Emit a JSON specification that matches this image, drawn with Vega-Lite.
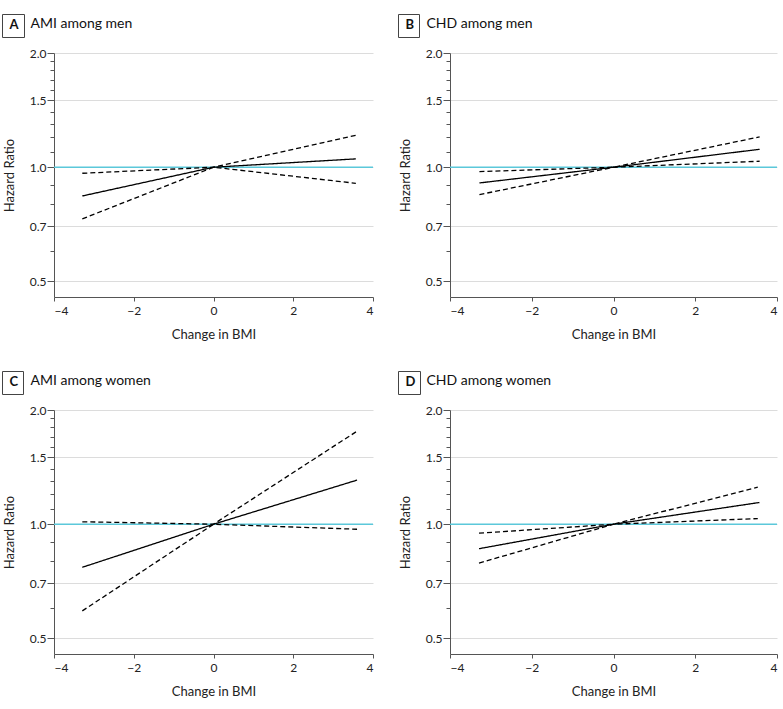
{
  "$schema": "https://vega.github.io/schema/vega-lite/v6.json",
  "background": "white",
  "padding": {"left": 1, "top": 13, "right": 0, "bottom": 0},
  "datasets": {
    "curves": [
      {"panel": "A", "series": "Estimate", "bmi": -3.29, "hr": 0.84},
      {"panel": "A", "series": "Estimate", "bmi": 0, "hr": 1.0},
      {"panel": "A", "series": "Estimate", "bmi": 3.57, "hr": 1.052},
      {"panel": "A", "series": "Lower", "bmi": -3.29, "hr": 0.731},
      {"panel": "A", "series": "Lower", "bmi": 0, "hr": 1.0},
      {"panel": "A", "series": "Lower", "bmi": 3.57, "hr": 0.907},
      {"panel": "A", "series": "Upper", "bmi": -3.29, "hr": 0.964},
      {"panel": "A", "series": "Upper", "bmi": 0, "hr": 1.0},
      {"panel": "A", "series": "Upper", "bmi": 3.57, "hr": 1.214},
      {"panel": "B", "series": "Estimate", "bmi": -3.28, "hr": 0.909},
      {"panel": "B", "series": "Estimate", "bmi": 0, "hr": 1.0},
      {"panel": "B", "series": "Estimate", "bmi": 3.575, "hr": 1.115},
      {"panel": "B", "series": "Lower", "bmi": -3.28, "hr": 0.847},
      {"panel": "B", "series": "Lower", "bmi": 0, "hr": 1.0},
      {"panel": "B", "series": "Lower", "bmi": 3.575, "hr": 1.037},
      {"panel": "B", "series": "Upper", "bmi": -3.28, "hr": 0.974},
      {"panel": "B", "series": "Upper", "bmi": 0, "hr": 1.0},
      {"panel": "B", "series": "Upper", "bmi": 3.575, "hr": 1.202},
      {"panel": "C", "series": "Estimate", "bmi": -3.29, "hr": 0.77},
      {"panel": "C", "series": "Estimate", "bmi": 0, "hr": 1.0},
      {"panel": "C", "series": "Estimate", "bmi": 3.6, "hr": 1.307},
      {"panel": "C", "series": "Lower", "bmi": -3.29, "hr": 0.591},
      {"panel": "C", "series": "Lower", "bmi": 0, "hr": 1.0},
      {"panel": "C", "series": "Lower", "bmi": 3.6, "hr": 0.97},
      {"panel": "C", "series": "Upper", "bmi": -3.29, "hr": 1.015},
      {"panel": "C", "series": "Upper", "bmi": 0, "hr": 1.0},
      {"panel": "C", "series": "Upper", "bmi": 3.6, "hr": 1.759},
      {"panel": "D", "series": "Estimate", "bmi": -3.29, "hr": 0.862},
      {"panel": "D", "series": "Estimate", "bmi": 0, "hr": 1.0},
      {"panel": "D", "series": "Estimate", "bmi": 3.57, "hr": 1.141},
      {"panel": "D", "series": "Lower", "bmi": -3.29, "hr": 0.79},
      {"panel": "D", "series": "Lower", "bmi": 0, "hr": 1.0},
      {"panel": "D", "series": "Lower", "bmi": 3.53, "hr": 1.035},
      {"panel": "D", "series": "Upper", "bmi": -3.29, "hr": 0.947},
      {"panel": "D", "series": "Upper", "bmi": 0, "hr": 1.0},
      {"panel": "D", "series": "Upper", "bmi": 3.53, "hr": 1.252}
    ],
    "ref": [
      {"panel": "A", "hr": 1.0},
      {"panel": "B", "hr": 1.0},
      {"panel": "C", "hr": 1.0},
      {"panel": "D", "hr": 1.0}
    ]
  },
  "vconcat": [
    {
      "hconcat": [
        {
          "width": 319,
          "height": 244,
          "title": {"text": "AMI among men"},
          "layer": [
            {
              "data": {"name": "ref"},
              "transform": [{"filter": "datum.panel === 'A'"}],
              "mark": {"type": "rule", "strokeWidth": 1.5},
              "encoding": {
                "y": {"field": "hr", "type": "quantitative", "scale": {"type": "log", "domain": [0.455, 2], "nice": false}},
                "color": {"field": "panel", "type": "nominal", "scale": {"range": ["#5bc8da"]}}
              }
            },
            {
              "data": {"name": "curves"},
              "transform": [{"filter": "datum.panel === 'A'"}],
              "mark": {"type": "line", "color": "black", "strokeWidth": 1.3},
              "encoding": {
                "x": {"field": "bmi", "type": "quantitative", "title": "Change in BMI", "scale": {"domain": [-4, 4], "nice": false},
                  "axis": {"values": [-4, -2, 0, 2, 4], "grid": false}},
                "y": {"field": "hr", "type": "quantitative", "title": "Hazard Ratio",
                  "axis": {"grid": true, "values": [0.5, 0.6, 0.7, 0.8, 0.9, 1.0, 1.1, 1.2, 1.3, 1.4, 1.5, 1.6, 1.7, 1.8, 1.9, 2.0],
                    "labelExpr": "indexof([0.5, 0.7, 1, 1.5, 2], datum.value) >= 0 ? format(datum.value, '.1f') : ''",
                    "tickSize": {"condition": {"test": "indexof([0.5, 0.7, 1, 1.5, 2], datum.value) >= 0", "value": 7}, "value": 4},
                    "gridOpacity": {"condition": {"test": "indexof([0.5, 0.7, 1, 1.5, 2], datum.value) >= 0", "value": 1}, "value": 0}}},
                "detail": {"field": "series"},
                "strokeDash": {"field": "series", "type": "nominal", "scale": {"domain": ["Estimate", "Lower", "Upper"], "range": [[1, 0], [5, 3], [5, 3]]}, "legend": null}
              }
            }
          ]
        },
        {
          "width": 327,
          "height": 244,
          "title": {"text": "CHD among men"},
          "layer": [
            {
              "data": {"name": "ref"},
              "transform": [{"filter": "datum.panel === 'B'"}],
              "mark": {"type": "rule", "strokeWidth": 1.5},
              "encoding": {
                "y": {"field": "hr", "type": "quantitative", "scale": {"type": "log", "domain": [0.455, 2], "nice": false}},
                "color": {"field": "panel", "type": "nominal", "scale": {"range": ["#5bc8da"]}}
              }
            },
            {
              "data": {"name": "curves"},
              "transform": [{"filter": "datum.panel === 'B'"}],
              "mark": {"type": "line", "color": "black", "strokeWidth": 1.3},
              "encoding": {
                "x": {"field": "bmi", "type": "quantitative", "title": "Change in BMI", "scale": {"domain": [-4, 4], "nice": false},
                  "axis": {"values": [-4, -2, 0, 2, 4], "grid": false}},
                "y": {"field": "hr", "type": "quantitative", "title": "Hazard Ratio",
                  "axis": {"grid": true, "values": [0.5, 0.6, 0.7, 0.8, 0.9, 1.0, 1.1, 1.2, 1.3, 1.4, 1.5, 1.6, 1.7, 1.8, 1.9, 2.0],
                    "labelExpr": "indexof([0.5, 0.7, 1, 1.5, 2], datum.value) >= 0 ? format(datum.value, '.1f') : ''",
                    "tickSize": {"condition": {"test": "indexof([0.5, 0.7, 1, 1.5, 2], datum.value) >= 0", "value": 7}, "value": 4},
                    "gridOpacity": {"condition": {"test": "indexof([0.5, 0.7, 1, 1.5, 2], datum.value) >= 0", "value": 1}, "value": 0}}},
                "detail": {"field": "series"},
                "strokeDash": {"field": "series", "type": "nominal", "scale": {"domain": ["Estimate", "Lower", "Upper"], "range": [[1, 0], [5, 3], [5, 3]]}, "legend": null}
              }
            }
          ]
        }
      ],
      "spacing": 23,
      "resolve": {"scale": {"color": "independent"}, "legend": {"color": "independent"}}
    },
    {
      "hconcat": [
        {
          "width": 319,
          "height": 244,
          "title": {"text": "AMI among women"},
          "layer": [
            {
              "data": {"name": "ref"},
              "transform": [{"filter": "datum.panel === 'C'"}],
              "mark": {"type": "rule", "strokeWidth": 1.5},
              "encoding": {
                "y": {"field": "hr", "type": "quantitative", "scale": {"type": "log", "domain": [0.455, 2], "nice": false}},
                "color": {"field": "panel", "type": "nominal", "scale": {"range": ["#5bc8da"]}}
              }
            },
            {
              "data": {"name": "curves"},
              "transform": [{"filter": "datum.panel === 'C'"}],
              "mark": {"type": "line", "color": "black", "strokeWidth": 1.3},
              "encoding": {
                "x": {"field": "bmi", "type": "quantitative", "title": "Change in BMI", "scale": {"domain": [-4, 4], "nice": false},
                  "axis": {"values": [-4, -2, 0, 2, 4], "grid": false}},
                "y": {"field": "hr", "type": "quantitative", "title": "Hazard Ratio",
                  "axis": {"grid": true, "values": [0.5, 0.6, 0.7, 0.8, 0.9, 1.0, 1.1, 1.2, 1.3, 1.4, 1.5, 1.6, 1.7, 1.8, 1.9, 2.0],
                    "labelExpr": "indexof([0.5, 0.7, 1, 1.5, 2], datum.value) >= 0 ? format(datum.value, '.1f') : ''",
                    "tickSize": {"condition": {"test": "indexof([0.5, 0.7, 1, 1.5, 2], datum.value) >= 0", "value": 7}, "value": 4},
                    "gridOpacity": {"condition": {"test": "indexof([0.5, 0.7, 1, 1.5, 2], datum.value) >= 0", "value": 1}, "value": 0}}},
                "detail": {"field": "series"},
                "strokeDash": {"field": "series", "type": "nominal", "scale": {"domain": ["Estimate", "Lower", "Upper"], "range": [[1, 0], [5, 3], [5, 3]]}, "legend": null}
              }
            }
          ]
        },
        {
          "width": 327,
          "height": 244,
          "title": {"text": "CHD among women"},
          "layer": [
            {
              "data": {"name": "ref"},
              "transform": [{"filter": "datum.panel === 'D'"}],
              "mark": {"type": "rule", "strokeWidth": 1.5},
              "encoding": {
                "y": {"field": "hr", "type": "quantitative", "scale": {"type": "log", "domain": [0.455, 2], "nice": false}},
                "color": {"field": "panel", "type": "nominal", "scale": {"range": ["#5bc8da"]}}
              }
            },
            {
              "data": {"name": "curves"},
              "transform": [{"filter": "datum.panel === 'D'"}],
              "mark": {"type": "line", "color": "black", "strokeWidth": 1.3},
              "encoding": {
                "x": {"field": "bmi", "type": "quantitative", "title": "Change in BMI", "scale": {"domain": [-4, 4], "nice": false},
                  "axis": {"values": [-4, -2, 0, 2, 4], "grid": false}},
                "y": {"field": "hr", "type": "quantitative", "title": "Hazard Ratio",
                  "axis": {"grid": true, "values": [0.5, 0.6, 0.7, 0.8, 0.9, 1.0, 1.1, 1.2, 1.3, 1.4, 1.5, 1.6, 1.7, 1.8, 1.9, 2.0],
                    "labelExpr": "indexof([0.5, 0.7, 1, 1.5, 2], datum.value) >= 0 ? format(datum.value, '.1f') : ''",
                    "tickSize": {"condition": {"test": "indexof([0.5, 0.7, 1, 1.5, 2], datum.value) >= 0", "value": 7}, "value": 4},
                    "gridOpacity": {"condition": {"test": "indexof([0.5, 0.7, 1, 1.5, 2], datum.value) >= 0", "value": 1}, "value": 0}}},
                "detail": {"field": "series"},
                "strokeDash": {"field": "series", "type": "nominal", "scale": {"domain": ["Estimate", "Lower", "Upper"], "range": [[1, 0], [5, 3], [5, 3]]}, "legend": null}
              }
            }
          ]
        }
      ],
      "spacing": 23,
      "resolve": {"scale": {"color": "independent"}, "legend": {"color": "independent"}}
    }
  ],
  "spacing": 29,
  "resolve": {"scale": {"color": "independent"}, "legend": {"color": "independent"}},
  "config": {
    "font": "Lato",
    "view": {"stroke": null},
    "title": {"anchor": "start", "frame": "group", "dx": -23.5, "fontSize": 14, "fontWeight": "normal", "color": "#111", "offset": -17},
    "axis": {
      "labelFont": "Lato",
      "labelFontSize": 12,
      "labelColor": "#222",
      "titleFont": "Lato",
      "titleFontSize": 13,
      "titleFontWeight": "normal",
      "titleColor": "#222",
      "domainColor": "#555",
      "tickColor": "#555",
      "gridColor": "#dcdcdc"
    },
    "axisX": {"tickSize": 4, "labelPadding": 4, "titlePadding": 12},
    "axisY": {"labelPadding": 1, "titlePadding": 13},
    "legend": {
      "orient": "none",
      "legendX": -52,
      "legendY": -39,
      "title": null,
      "symbolType": "circle",
      "symbolSize": 0,
      "symbolOpacity": 0,
      "symbolStrokeWidth": 0,
      "labelOffset": -10,
      "labelFont": "Lato",
      "labelFontSize": 13,
      "labelFontWeight": "bold",
      "labelColor": "#111",
      "strokeColor": "#444",
      "padding": 4.5
    }
  }
}
